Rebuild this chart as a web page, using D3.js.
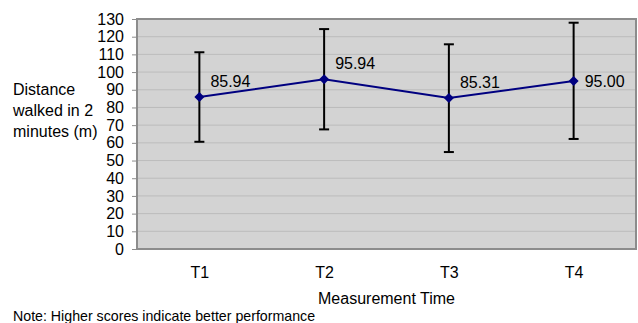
<!DOCTYPE html>
<html><head><meta charset="utf-8">
<script src="https://cdn.jsdelivr.net/npm/d3@7"></script>
<style>body{margin:0;background:#fff;}svg{display:block;font-family:"Liberation Sans",Arial,sans-serif;}</style>
</head><body><svg id="c" width="638" height="323"></svg>
<script>
const categories = ["T1","T2","T3","T4"];
const means = [85.94, 95.94, 85.31, 95.00];
const upper = [111.2, 124.3, 115.7, 127.9];
const lower = [60.6, 67.6, 54.8, 62.2];
const meanLabels = ["85.94","95.94","85.31","95.00"];
const yTicks = [0,10,20,30,40,50,60,70,80,90,100,110,120,130];
const yTitle = ["Distance","walked in 2","minutes (m)"];
const xTitle = "Measurement Time";
const note = "Note: Higher scores indicate better performance";

const svg = d3.select("#c");
const L=137, R=636, T=19, B=249;
const x = d3.scalePoint().domain(categories).range([L,R]).padding(0.5);
const y = d3.scaleLinear().domain([0,130]).range([B,T]);
const fs = 16;

svg.append("rect").attr("x",L).attr("y",T).attr("width",R-L).attr("height",B-T).attr("fill","#d3d3d3");
// gridlines
svg.append("g").selectAll("line").data(yTicks.filter(d=>d>0 && d<130)).join("line")
  .attr("x1",L).attr("x2",R).attr("y1",d=>y(d)).attr("y2",d=>y(d))
  .attr("stroke","#bcbcbc").attr("stroke-width",1);
// border
svg.append("rect").attr("x",L).attr("y",T).attr("width",R-L).attr("height",B-T)
  .attr("fill","none").attr("stroke","#8c8c8c").attr("stroke-width",2);

// y axis
const yAxis = d3.axisLeft(y).tickValues(yTicks).tickSize(5).tickPadding(8);
const gy = svg.append("g").attr("transform",`translate(${L},0)`).call(yAxis);
gy.select(".domain").remove();
gy.selectAll(".tick line").attr("stroke","#8c8c8c");
gy.selectAll(".tick text").attr("font-size",fs).attr("fill","#000").attr("font-family","Liberation Sans, Arial, sans-serif");

// x axis
const xAxis = d3.axisBottom(x).tickSize(0).tickPadding(18);
const gx = svg.append("g").attr("transform",`translate(0,${B})`).call(xAxis);
gx.select(".domain").remove();
gx.selectAll(".tick text").attr("font-size",fs).attr("fill","#000").attr("font-family","Liberation Sans, Arial, sans-serif");

// error bars
const eb = svg.append("g").attr("stroke","#000").attr("stroke-width",2);
categories.forEach((c,i)=>{
  const cx = x(c);
  eb.append("line").attr("x1",cx).attr("x2",cx).attr("y1",y(upper[i])).attr("y2",y(lower[i]));
  eb.append("line").attr("x1",cx-5).attr("x2",cx+5).attr("y1",y(upper[i])).attr("y2",y(upper[i]));
  eb.append("line").attr("x1",cx-5).attr("x2",cx+5).attr("y1",y(lower[i])).attr("y2",y(lower[i]));
});

// line
const line = d3.line().x((d,i)=>x(categories[i])).y(d=>y(d));
svg.append("path").datum(means).attr("d",line).attr("fill","none").attr("stroke","#000080").attr("stroke-width",2);
// markers
svg.append("g").selectAll("path").data(means).join("path")
  .attr("d",d3.symbol(d3.symbolDiamond2,64))
  .attr("transform",(d,i)=>`translate(${x(categories[i])},${y(d)})`)
  .attr("fill","#000080");

// labels
svg.append("g").selectAll("text").data(means).join("text")
  .attr("x",(d,i)=>x(categories[i]) + 11)
  .attr("y",(d,i)=>y(d) + (i===3?0:-16))
  .attr("dy","0.35em")
  .attr("font-size",fs).text((d,i)=>meanLabels[i]);

// y title
svg.append("g").selectAll("text").data(yTitle).join("text")
  .attr("x",13).attr("y",(d,i)=>89+i*21).attr("dy","0.35em").attr("font-size",fs).text(d=>d);
// x title
svg.append("text").attr("x",(L+R)/2).attr("y",298).attr("dy","0.35em").attr("text-anchor","middle").attr("font-size",fs).text(xTitle);
// note
svg.append("text").attr("x",13).attr("y",316).attr("dy","0.35em").attr("font-size",14.2).text(note);
</script></body></html>
